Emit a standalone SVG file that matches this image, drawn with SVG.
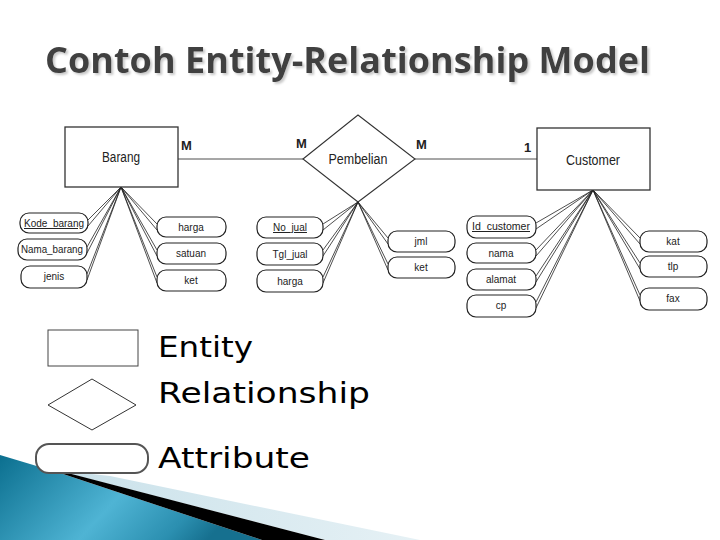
<svg xmlns="http://www.w3.org/2000/svg" width="720" height="540" viewBox="0 0 720 540">
<defs>
<linearGradient id="blue" x1="0" y1="0" x2="1" y2="0.3">
<stop offset="0" stop-color="#0b6f8f"/>
<stop offset="0.55" stop-color="#4fb4d4"/>
<stop offset="0.85" stop-color="#2b8fb0"/>
<stop offset="1" stop-color="#16708f"/>
</linearGradient>
<linearGradient id="pale" x1="0" y1="0" x2="1" y2="0">
<stop offset="0" stop-color="#c9e1ea"/>
<stop offset="1" stop-color="#e6f1f5"/>
</linearGradient>
<filter id="shadow" x="-5%" y="-20%" width="110%" height="150%">
<feDropShadow dx="2" dy="2" stdDeviation="0.8" flood-color="#bbbbbb" flood-opacity="0.8"/>
</filter>
<style>
.ent{fill:#fff;stroke:#333;stroke-width:1.3}
.rel{fill:#fff;stroke:#333;stroke-width:1.1}
.att{fill:#fff;stroke:#222;stroke-width:1.2}
.lbl{font-family:"Liberation Sans",Arial,sans-serif;fill:#222;text-anchor:middle}
.big{font-size:14px}
.sm{font-size:10px}
.card{font-family:"Liberation Sans",Arial,sans-serif;font-size:13px;font-weight:bold;fill:#222}
.leg{font-family:"DejaVu Sans",sans-serif;font-size:29px;fill:#000}
.conn line{stroke:#222;stroke-width:0.8}
.main{stroke:#777;stroke-width:2.2;fill:none}
</style>
</defs>
<rect width="720" height="540" fill="#fff"/>

<!-- Title -->
<text x="45" y="73" font-family="'Open Sans','Liberation Sans',sans-serif" font-weight="bold" font-size="36" fill="#404040" textLength="605" lengthAdjust="spacingAndGlyphs" filter="url(#shadow)">Contoh Entity-Relationship Model</text>

<!-- Connectors -->
<g id="connectors" class="conn">
<line class="main" x1="178" y1="159" x2="303" y2="159"/>
<line class="main" x1="415" y1="159" x2="537" y2="159"/>
<!-- Barang -->
<line x1="121" y1="187" x2="88" y2="220"/><line x1="121" y1="187" x2="88" y2="226"/>
<line x1="121" y1="187" x2="87" y2="247"/><line x1="121" y1="187" x2="87" y2="253"/>
<line x1="121" y1="187" x2="87" y2="274"/><line x1="121" y1="187" x2="87" y2="280"/>
<line x1="121" y1="187" x2="157" y2="224"/><line x1="121" y1="187" x2="157" y2="230"/>
<line x1="121" y1="187" x2="157" y2="250"/><line x1="121" y1="187" x2="157" y2="256"/>
<line x1="121" y1="187" x2="157" y2="277"/><line x1="121" y1="187" x2="157" y2="283"/>
<!-- Pembelian -->
<line x1="358" y1="202" x2="323" y2="224"/><line x1="358" y1="202" x2="323" y2="230"/>
<line x1="358" y1="202" x2="323" y2="250"/><line x1="358" y1="202" x2="323" y2="256"/>
<line x1="358" y1="202" x2="323" y2="277"/><line x1="358" y1="202" x2="323" y2="283"/>
<line x1="358" y1="202" x2="388" y2="238"/><line x1="358" y1="202" x2="388" y2="244"/>
<line x1="358" y1="202" x2="388" y2="264"/><line x1="358" y1="202" x2="388" y2="270"/>
<!-- Customer -->
<line x1="593" y1="190" x2="536" y2="223"/><line x1="593" y1="190" x2="536" y2="229"/>
<line x1="593" y1="190" x2="536" y2="250"/><line x1="593" y1="190" x2="536" y2="256"/>
<line x1="593" y1="190" x2="536" y2="276"/><line x1="593" y1="190" x2="536" y2="282"/>
<line x1="593" y1="190" x2="536" y2="302"/><line x1="593" y1="190" x2="536" y2="308"/>
<line x1="593" y1="190" x2="640" y2="238"/><line x1="593" y1="190" x2="640" y2="244"/>
<line x1="593" y1="190" x2="640" y2="263"/><line x1="593" y1="190" x2="640" y2="269"/>
<line x1="593" y1="190" x2="640" y2="295"/><line x1="593" y1="190" x2="640" y2="301"/>
</g>

<!-- Entities & relationship -->
<g id="barang"><rect class="ent" x="65" y="127" width="113" height="60"/><text class="lbl big" x="121" y="162" textLength="38" lengthAdjust="spacingAndGlyphs">Barang</text></g>
<g id="pembelian"><polygon class="rel" points="303,159 358,115 415,159 358,202"/><text class="lbl big" x="358" y="164" textLength="59" lengthAdjust="spacingAndGlyphs">Pembelian</text></g>
<g id="customer"><rect class="ent" x="537" y="128" width="113" height="62"/><text class="lbl big" x="593" y="165" textLength="54" lengthAdjust="spacingAndGlyphs">Customer</text></g>

<g id="cardinalities">
<text class="card" x="181" y="150">M</text>
<text class="card" x="296" y="148">M</text>
<text class="card" x="416" y="149">M</text>
<text class="card" x="524" y="152" font-weight="normal">1</text>
</g>

<!-- Attributes -->
<g id="a-kode"><rect class="att" x="20" y="213" width="68" height="20" rx="9"/><text class="lbl sm" x="54" y="227" text-decoration="underline" textLength="60" lengthAdjust="spacingAndGlyphs">Kode_barang</text></g>
<g id="a-nama-barang"><rect class="att" x="18" y="239" width="69" height="21" rx="9"/><text class="lbl sm" x="52" y="253" textLength="62" lengthAdjust="spacingAndGlyphs">Nama_barang</text></g>
<g id="a-jenis"><rect class="att" x="21" y="266" width="66" height="22" rx="9"/><text class="lbl sm" x="54" y="280">jenis</text></g>
<g id="a-harga1"><rect class="att" x="157" y="217" width="69" height="20" rx="9"/><text class="lbl sm" x="191" y="231">harga</text></g>
<g id="a-satuan"><rect class="att" x="157" y="243" width="69" height="21" rx="9"/><text class="lbl sm" x="191" y="257">satuan</text></g>
<g id="a-ket1"><rect class="att" x="157" y="270" width="69" height="21" rx="9"/><text class="lbl sm" x="191" y="284">ket</text></g>

<g id="a-nojual"><rect class="att" x="257" y="217" width="66" height="21" rx="9"/><text class="lbl sm" x="290" y="231" text-decoration="underline">No_jual</text></g>
<g id="a-tgljual"><rect class="att" x="257" y="243" width="66" height="22" rx="9"/><text class="lbl sm" x="290" y="258">Tgl_jual</text></g>
<g id="a-harga2"><rect class="att" x="257" y="270" width="66" height="22" rx="9"/><text class="lbl sm" x="290" y="285">harga</text></g>
<g id="a-jml"><rect class="att" x="388" y="231" width="67" height="21" rx="9"/><text class="lbl sm" x="421" y="245">jml</text></g>
<g id="a-ket2"><rect class="att" x="388" y="257" width="67" height="21" rx="9"/><text class="lbl sm" x="421" y="271">ket</text></g>

<g id="a-idcust"><rect class="att" x="467" y="216" width="69" height="22" rx="9"/><text class="lbl sm" x="501" y="230" text-decoration="underline" textLength="58" lengthAdjust="spacingAndGlyphs">Id_customer</text></g>
<g id="a-nama"><rect class="att" x="467" y="243" width="69" height="20" rx="9"/><text class="lbl sm" x="501" y="257">nama</text></g>
<g id="a-alamat"><rect class="att" x="467" y="269" width="69" height="21" rx="9"/><text class="lbl sm" x="501" y="283">alamat</text></g>
<g id="a-cp"><rect class="att" x="467" y="295" width="69" height="22" rx="9"/><text class="lbl sm" x="501" y="309">cp</text></g>
<g id="a-kat"><rect class="att" x="640" y="231" width="67" height="21" rx="9"/><text class="lbl sm" x="673" y="245">kat</text></g>
<g id="a-tlp"><rect class="att" x="640" y="256" width="67" height="21" rx="9"/><text class="lbl sm" x="673" y="270">tlp</text></g>
<g id="a-fax"><rect class="att" x="640" y="288" width="67" height="22" rx="9"/><text class="lbl sm" x="673" y="302">fax</text></g>

<!-- Decoration bottom-left -->
<polygon points="55,470 110,476 420,540 325,540" fill="url(#pale)"/>
<polygon points="0,455 60,473 262,540 0,540" fill="url(#blue)"/>
<polygon points="45,468 60,471 325,540 262,540" fill="#000"/>

<!-- Legend -->
<g id="legend-entity"><rect x="48" y="330" width="90" height="36" fill="#fff" stroke="#444" stroke-width="1"/><text class="leg" x="158" y="357" textLength="95" lengthAdjust="spacingAndGlyphs">Entity</text></g>
<g id="legend-relationship"><polygon points="48,405 92,379 136,405 92,430" fill="#fff" stroke="#333" stroke-width="1"/><text class="leg" x="158" y="403" textLength="212" lengthAdjust="spacingAndGlyphs">Relationship</text></g>
<g id="legend-attribute"><rect x="36" y="444" width="112" height="29" rx="13" fill="#fff" stroke="#555" stroke-width="2"/><text class="leg" x="158" y="468" textLength="152" lengthAdjust="spacingAndGlyphs">Attribute</text></g>
</svg>
